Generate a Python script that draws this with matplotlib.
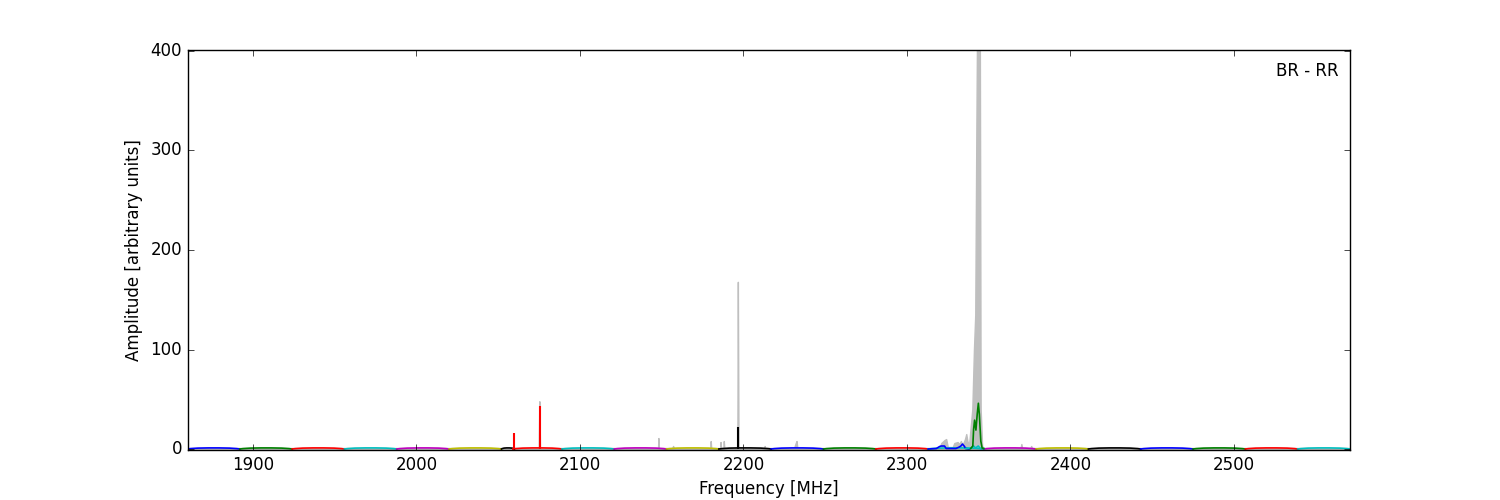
import numpy as np
import matplotlib
matplotlib.use('Agg')
import matplotlib.pyplot as plt

plt.style.use('classic')

# Bandas del espectro (MHz) y color de cada una
band_start = [1860, 1892, 1924, 1956, 1988, 2020, 2052, 2059, 2089, 2121, 2153, 2185,
              2217, 2249, 2281, 2313, 2347, 2379, 2411, 2443, 2475, 2507, 2539]
band_end = [1892, 1924, 1956, 1988, 2020, 2052, 2060, 2089, 2121, 2153, 2185, 2217,
            2249, 2281, 2313, 2347, 2379, 2411, 2443, 2475, 2507, 2539, 2571]
band_color = ['b', 'g', 'r', 'c', 'm', 'y', 'k', 'r', 'c', 'm', 'y', 'k',
              'b', 'g', 'r', 'c', 'm', 'y', 'k', 'b', 'g', 'r', 'c']

# Forma del bandpass (fraccion del ancho de banda, amplitud)
profile_pos = [0.0, 0.06, 0.2, 0.4, 0.6, 0.8, 0.94, 1.0]
profile_amp = [0.0, 0.4, 0.9, 1.1, 1.1, 0.9, 0.4, 0.0]

# Picos estrechos (RFI) por color
spike_freq = [2059.6, 2075.5, 2196.6]
spike_amp = [16, 43, 22]
spike_color = ['r', 'r', 'k']

# Zona 2313-2347 MHz
blue_freq = [2313, 2318, 2320, 2321, 2323, 2324, 2330, 2332, 2333, 2334, 2335, 2336, 2338]
blue_amp = [0.0, 0.5, 2.5, 3.0, 3.0, 0.5, 0.5, 2.0, 3.0, 5.0, 3.0, 0.5, 0.0]
cyan_freq = [2336, 2339, 2340.8, 2342, 2343.6, 2345, 2347]
cyan_amp = [0.5, 0.5, 3.0, 1.0, 3.0, 0.5, 0.5]
green_freq = [2339, 2340.3, 2340.8, 2341.4, 2342.2, 2343, 2343.7, 2344.3, 2345.2, 2346, 2347]
green_amp = [0.5, 3, 20, 29, 19, 35, 46, 35, 8, 1, 0.5]

# Envolvente gris (maximo)
gray_freq = [1860, 2074.8, 2075.2, 2075.6, 2147.8, 2148.0, 2148.3, 2156.5, 2157.0, 2157.5,
             2179.8, 2180.0, 2180.3, 2185.8, 2186.0, 2186.3, 2187.8, 2188.0, 2188.3,
             2196.3, 2196.6, 2197.0, 2212.8, 2213.0, 2213.3, 2231.0, 2232.0, 2232.5, 2233.0,
             2320, 2321, 2323, 2324, 2325, 2328, 2329, 2331, 2332, 2333, 2334, 2335.5, 2336.3,
             2337, 2338, 2340, 2341, 2341.8, 2342.4, 2342.9, 2344.6, 2345.1, 2346, 2347,
             2369.5, 2370.0, 2370.5, 2375.5, 2376.0, 2376.5, 2571]
gray_amp = [1, 1, 48, 1, 1, 11, 1, 1, 3, 1,
            1, 8, 1, 1, 7, 1, 1, 8, 1,
            1, 168, 1, 1, 3, 1, 1, 6, 8, 1,
            1, 6, 9, 10, 2, 2, 6, 7, 5, 8, 4, 10, 15,
            8, 4, 40, 100, 135, 300, 420, 420, 40, 3, 1,
            1, 5, 1, 1, 3, 1, 1]

fig, ax = plt.subplots(figsize=(15, 5))

ax.fill_between(gray_freq, 0, gray_amp, color='0.75', edgecolor='0.75', linewidth=1)

for start, end, col in zip(band_start, band_end, band_color):
    f = start + (end - start) * np.array(profile_pos)
    ax.plot(f, profile_amp, color=col, linewidth=1.2)

ax.vlines(spike_freq, 0, spike_amp, colors=spike_color, linewidth=1.5)

ax.plot(blue_freq, blue_amp, color='b', linewidth=1.2)
ax.plot(cyan_freq, cyan_amp, color='c', linewidth=1.2)
ax.plot(green_freq, green_amp, color='g', linewidth=1.2)

ax.set_xlim(1860, 2571)
ax.set_ylim(-1, 401)
ax.set_xticks(np.arange(1900, 2501, 100))
ax.set_yticks(np.arange(0, 401, 100))
ax.set_xlabel('Frequency [MHz]')
ax.set_ylabel('Amplitude [arbitrary units]')
ax.text(0.99, 0.97, 'BR - RR', transform=ax.transAxes, ha='right', va='top', fontsize=12)

plt.savefig('out.png', dpi=100, facecolor='white')
